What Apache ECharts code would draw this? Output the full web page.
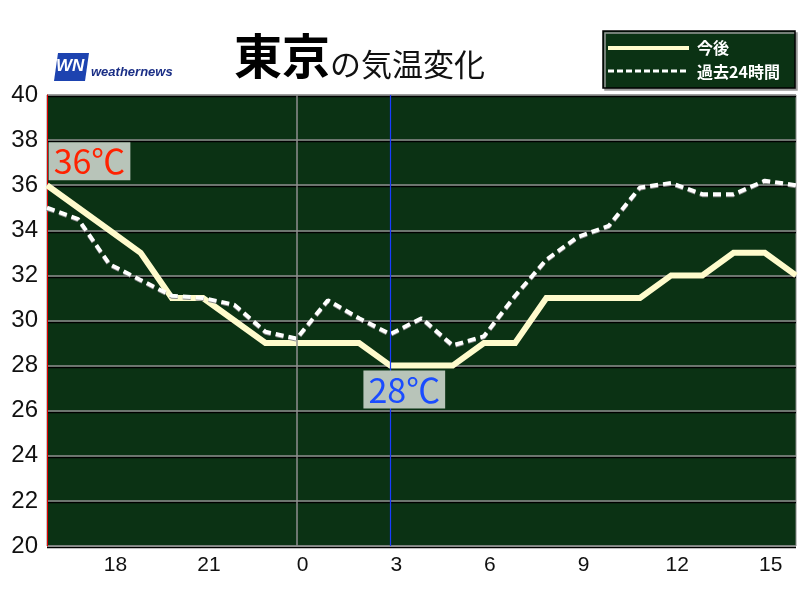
<!DOCTYPE html>
<html>
<head>
<meta charset="utf-8">
<script src="https://cdn.jsdelivr.net/npm/echarts@6/dist/echarts.min.js"></script>
<style>html,body{margin:0;padding:0;background:#fff;}#main{width:800px;height:600px;}</style>
</head>
<body>
<div id="main"></div>
<script>
// Hours from 16:00 to 16:00 next day
const hours = ['16','17','18','19','20','21','22','23','0','1','2','3','4','5','6','7','8','9','10','11','12','13','14','15','16'];
// 今後 (forecast)
const forecast = [36,35,34,33,31,31,30,29,29,29,29,28,28,28,29,29,31,31,31,31,32,32,33,33,32];
// 過去24時間 (past 24 hours)
const past = [35,34.5,32.5,31.8,31.1,31,30.7,29.5,29.2,30.9,30.1,29.4,30.1,28.9,29.3,31.1,32.7,33.7,34.2,35.9,36.1,35.6,35.6,36.2,36.0];
const yTicks = [20,22,24,26,28,30,32,34,36,38,40];
const titleCity = '東京';
const titleRest = 'の気温変化';
const legendNames = ['今後','過去24時間'];
const midnightLabel = '0';
const nowLabel = '3';

const numFont = 'Liberation Sans, Arial, sans-serif';
const jpFont = '"Noto Sans CJK JP", sans-serif';

const chart = echarts.init(document.getElementById('main'), null, {renderer:'canvas'});
chart.setOption({
  animation: false,
  backgroundColor: '#ffffff',
  title: {
    text: '{a|' + titleCity + '}{b|' + titleRest + '}',
    left: 229, top: 27,
    textStyle: {
      rich: {
        a: {fontSize: 48, fontWeight: 'bold', color: '#000', fontFamily: jpFont, verticalAlign: 'bottom'},
        b: {fontSize: 31, fontWeight: 'normal', color: '#111', fontFamily: jpFont, verticalAlign: 'bottom'}
      }
    }
  },
  grid: {left: 47, right: 4, top: 95, bottom: 54, show: true, backgroundColor: '#0b3214', borderColor: '#8a8a8a', borderWidth: 1},
  xAxis: {
    type: 'category', data: hours, boundaryGap: false,
    axisLine: {show: false}, axisTick: {show: false}, splitLine: {show: false},
    axisLabel: {
      interval: function (i, v) { return (+v) % 3 === 0 && i < hours.length - 1; },
      fontSize: 21, color: '#111', fontFamily: numFont, margin: 9, padding: [0,0,0,12]
    }
  },
  yAxis: {
    type: 'value', min: yTicks[0], max: yTicks[yTicks.length-1], interval: 2,
    axisLine: {show: true, lineStyle: {color: '#e00000', width: 1}},
    axisTick: {show: false},
    axisLabel: {fontSize: 24, color: '#111', fontFamily: numFont, margin: 9},
    splitLine: {show: true, lineStyle: {color: '#8f8f8f', width: 1.5, shadowColor: '#000', shadowOffsetY: 1.5, shadowBlur: 0}}
  },
  series: [
    {
      name: legendNames[0], type: 'line', data: forecast, symbol: 'none', z: 3,
      lineStyle: {color: '#fffbcc', width: 6, join: 'miter'},
      markLine: {
        symbol: 'none', silent: true, label: {show: false},
        data: [
          {xAxis: midnightLabel, lineStyle: {color: '#8f8f8f', width: 1.5, type: 'solid'}},
          {xAxis: nowLabel, lineStyle: {color: '#1a3cff', width: 1.2, type: 'solid'}}
        ]
      },
      markPoint: {
        symbol: 'circle', symbolSize: 1, itemStyle: {color: 'rgba(0,0,0,0)'},
        z: 10,
        data: [
          {type: 'max', label: {color: '#ff2200', offset: [42.5, -24]}},
          {type: 'min', label: {color: '#1a4cff', offset: [14, 24]}}
        ],
        label: {
          show: true, position: 'inside', formatter: function (p) { return p.value + '℃'; },
          fontSize: 34, fontFamily: jpFont,
          backgroundColor: '#b8c4b9', padding: [1, 5, 1, 5], lineHeight: 36
        }
      }
    },
    {
      name: legendNames[1], type: 'line', data: past, symbol: 'none', z: 4,
      lineStyle: {color: '#ffffff', width: 4, type: [8, 5], shadowColor: '#8a8a8a', shadowBlur: 0, shadowOffsetY: 1}
    }
  ],
  graphic: [
    // logo
    {type: 'polygon', shape: {points: [[58,53],[89,53],[85,81],[54,81]]}, style: {fill: '#1d43b0'}},
    {type: 'text', left: 56, top: 58, style: {text: 'WN', fill: '#fff', fontSize: 17, fontWeight: 'bold', fontStyle: 'italic', fontFamily: numFont}},
    {type: 'text', left: 91, top: 66, style: {text: 'weathernews', fill: '#1b2f86', fontSize: 13, fontWeight: 'bold', fontStyle: 'italic', fontFamily: numFont}},
    // legend box
    {type: 'rect', shape: {x: 603, y: 31, width: 192, height: 57}, style: {fill: '#0b3214', stroke: '#000', lineWidth: 1.5, shadowColor: '#999', shadowOffsetX: 2, shadowOffsetY: 2, shadowBlur: 0}},
    {type: 'line', shape: {x1: 608, y1: 48, x2: 689, y2: 48}, style: {stroke: '#fffbcc', lineWidth: 4}},
    {type: 'line', shape: {x1: 608, y1: 71, x2: 689, y2: 71}, style: {stroke: '#fff', lineWidth: 3, lineDash: [6, 3]}},
    {type: 'text', x: 697, y: 48, style: {text: legendNames[0], fill: '#fff', fontSize: 16, fontWeight: 'bold', fontFamily: jpFont, verticalAlign: 'middle'}},
    {type: 'text', x: 697, y: 72, style: {text: legendNames[1], fill: '#fff', fontSize: 16, fontWeight: 'bold', fontFamily: jpFont, verticalAlign: 'middle'}}
  ]
});
</script>
</body>
</html>
